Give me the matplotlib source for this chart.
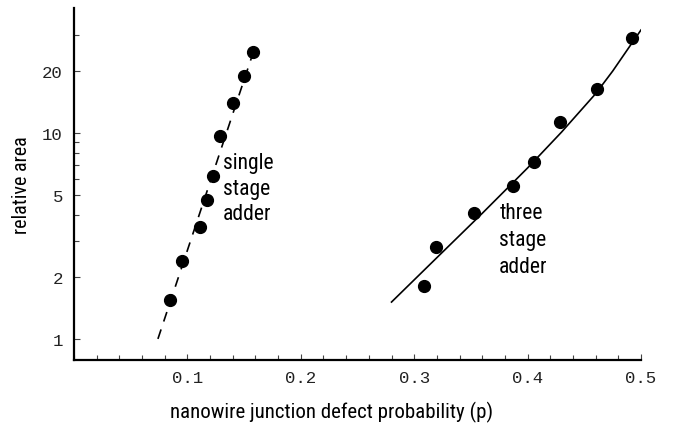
import matplotlib
matplotlib.use("Agg")
import matplotlib.pyplot as plt
from matplotlib.ticker import FixedLocator, FixedFormatter, MultipleLocator

# single stage adder: measured points and dashed fit
single_p = [0.085, 0.095, 0.111, 0.117, 0.123, 0.129, 0.140, 0.150, 0.158]
single_area = [1.55, 2.39, 3.50, 4.73, 6.18, 9.67, 14.0, 18.9, 24.7]
single_fit_p = [0.074, 0.160]
single_fit_area = [1.0, 26.5]

# three stage adder: measured points and solid curve
three_p = [0.309, 0.319, 0.353, 0.387, 0.406, 0.429, 0.461, 0.492]
three_area = [1.81, 2.80, 4.09, 5.53, 7.23, 11.3, 16.4, 28.9]
three_fit_p = [0.280, 0.320, 0.360, 0.400, 0.430, 0.460, 0.475, 0.490, 0.500]
three_fit_area = [1.51, 2.48, 4.07, 6.76, 10.1, 15.5, 19.95, 26.3, 31.6]

y_ticks = [1, 2, 5, 10, 20]
y_minor = [3, 4, 6, 7, 8, 9, 30]
x_ticks = [0.1, 0.2, 0.3, 0.4, 0.5]

label_font = ["Liberation Sans Narrow", "Roboto Condensed", "Roboto", "DejaVu Sans"]
tick_font = ["Liberation Mono", "DejaVu Sans Mono"]

fig = plt.figure(figsize=(6.75, 4.35), dpi=100)
ax = fig.add_axes([74 / 675, 1 - 361 / 435, (641 - 74) / 675, (361 - 9) / 435])

ax.plot(single_fit_p, single_fit_area, color="black", lw=1.2,
        linestyle=(0, (6, 5)))
ax.plot(three_fit_p, three_fit_area, color="black", lw=1.2)
ax.plot(single_p, single_area, "o", color="black", ms=8.5)
ax.plot(three_p, three_area, "o", color="black", ms=8.5)

ax.set_yscale("log")
ax.set_xlim(0, 0.5)
ax.set_ylim(0.79, 40.4)

ax.yaxis.set_major_locator(FixedLocator(y_ticks))
ax.yaxis.set_major_formatter(FixedFormatter([str(v) for v in y_ticks]))
ax.yaxis.set_minor_locator(FixedLocator(y_minor))
ax.yaxis.set_minor_formatter(FixedFormatter([]))
ax.xaxis.set_major_locator(FixedLocator(x_ticks))
ax.xaxis.set_major_formatter(FixedFormatter([f"{v:.1f}" for v in x_ticks]))
ax.xaxis.set_minor_locator(MultipleLocator(0.02))

for s in ["top", "right"]:
    ax.spines[s].set_visible(False)
for s in ["left", "bottom"]:
    ax.spines[s].set_linewidth(1.6)

ax.tick_params(which="both", direction="in", width=0.8, color="#444")
ax.tick_params(which="major", length=4)
ax.tick_params(which="minor", length=3.5)
ax.tick_params(axis="x", which="major", pad=7)
ax.tick_params(axis="y", which="major", pad=8)
for lab in ax.get_xticklabels() + ax.get_yticklabels():
    lab.set_fontfamily(tick_font)
    lab.set_fontsize(12.5)
    lab.set_color("#222")

ax.set_xlabel("nanowire junction defect probability (p)", family=label_font,
              fontstretch="condensed", fontsize=15, labelpad=12)
ax.xaxis.set_label_coords(0.455, -0.115)
ax.set_ylabel("relative area", family=label_font, fontstretch="condensed",
              fontsize=14.5, labelpad=8)

ax.text(0.1315, 8.1, "single\nstage\nadder", family=label_font,
        fontstretch="condensed", fontsize=15.5, va="top", ha="left",
        linespacing=1.3)
ax.text(0.375, 4.6, "three\nstage\nadder", family=label_font,
        fontstretch="condensed", fontsize=15.5, va="top", ha="left",
        linespacing=1.35)

fig.savefig("out.png", dpi=100)
